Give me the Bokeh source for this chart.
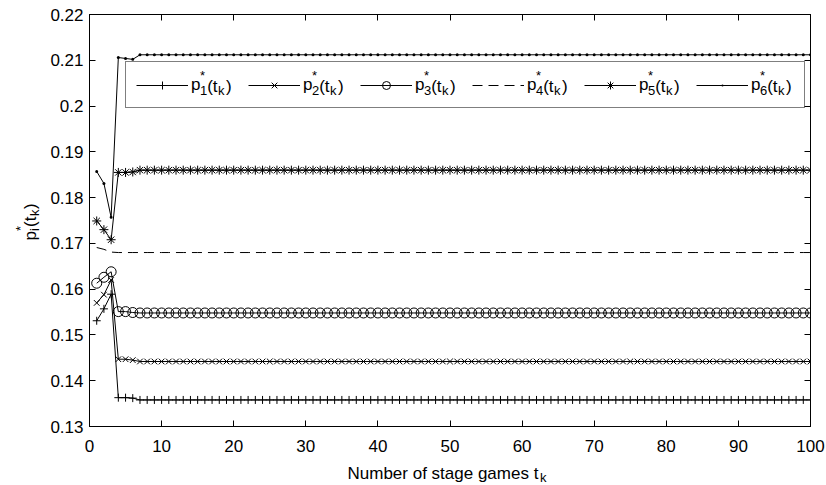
import math
from bokeh.plotting import figure
from bokeh.models import (Legend, LegendItem, LinearAxis, FixedTicker,
                          CustomJSTickFormatter, Range1d, ColumnDataSource)
from bokeh.core.properties import value
from bokeh.embed import file_html
from bokeh.resources import INLINE

# ---------------- data ----------------
t_k = list(range(1, 101))

p1 = [0.1531, 0.1557, 0.1589, 0.1363, 0.1363, 0.1362, 0.1358, 0.1358, 0.1358, 0.1358,
      0.1358, 0.1358, 0.1358, 0.1358, 0.1358, 0.1358, 0.1358, 0.1358, 0.1358, 0.1358,
      0.1358, 0.1358, 0.1358, 0.1358, 0.1358, 0.1358, 0.1358, 0.1358, 0.1358, 0.1358,
      0.1358, 0.1358, 0.1358, 0.1358, 0.1358, 0.1358, 0.1358, 0.1358, 0.1358, 0.1358,
      0.1358, 0.1358, 0.1358, 0.1358, 0.1358, 0.1358, 0.1358, 0.1358, 0.1358, 0.1358,
      0.1358, 0.1358, 0.1358, 0.1358, 0.1358, 0.1358, 0.1358, 0.1358, 0.1358, 0.1358,
      0.1358, 0.1358, 0.1358, 0.1358, 0.1358, 0.1358, 0.1358, 0.1358, 0.1358, 0.1358,
      0.1358, 0.1358, 0.1358, 0.1358, 0.1358, 0.1358, 0.1358, 0.1358, 0.1358, 0.1358,
      0.1358, 0.1358, 0.1358, 0.1358, 0.1358, 0.1358, 0.1358, 0.1358, 0.1358, 0.1358,
      0.1358, 0.1358, 0.1358, 0.1358, 0.1358, 0.1358, 0.1358, 0.1358, 0.1358, 0.1358]

p2 = [0.1570, 0.1588, 0.1620, 0.1447, 0.1447, 0.1445, 0.1442, 0.1442, 0.1442, 0.1442,
      0.1442, 0.1442, 0.1442, 0.1442, 0.1442, 0.1442, 0.1442, 0.1442, 0.1442, 0.1442,
      0.1442, 0.1442, 0.1442, 0.1442, 0.1442, 0.1442, 0.1442, 0.1442, 0.1442, 0.1442,
      0.1442, 0.1442, 0.1442, 0.1442, 0.1442, 0.1442, 0.1442, 0.1442, 0.1442, 0.1442,
      0.1442, 0.1442, 0.1442, 0.1442, 0.1442, 0.1442, 0.1442, 0.1442, 0.1442, 0.1442,
      0.1442, 0.1442, 0.1442, 0.1442, 0.1442, 0.1442, 0.1442, 0.1442, 0.1442, 0.1442,
      0.1442, 0.1442, 0.1442, 0.1442, 0.1442, 0.1442, 0.1442, 0.1442, 0.1442, 0.1442,
      0.1442, 0.1442, 0.1442, 0.1442, 0.1442, 0.1442, 0.1442, 0.1442, 0.1442, 0.1442,
      0.1442, 0.1442, 0.1442, 0.1442, 0.1442, 0.1442, 0.1442, 0.1442, 0.1442, 0.1442,
      0.1442, 0.1442, 0.1442, 0.1442, 0.1442, 0.1442, 0.1442, 0.1442, 0.1442, 0.1442]

p3 = [0.1613, 0.1626, 0.1638, 0.1551, 0.1551, 0.1549, 0.1548, 0.1548, 0.1548, 0.1548,
      0.1548, 0.1548, 0.1548, 0.1548, 0.1548, 0.1548, 0.1548, 0.1548, 0.1548, 0.1548,
      0.1548, 0.1548, 0.1548, 0.1548, 0.1548, 0.1548, 0.1548, 0.1548, 0.1548, 0.1548,
      0.1548, 0.1548, 0.1548, 0.1548, 0.1548, 0.1548, 0.1548, 0.1548, 0.1548, 0.1548,
      0.1548, 0.1548, 0.1548, 0.1548, 0.1548, 0.1548, 0.1548, 0.1548, 0.1548, 0.1548,
      0.1548, 0.1548, 0.1548, 0.1548, 0.1548, 0.1548, 0.1548, 0.1548, 0.1548, 0.1548,
      0.1548, 0.1548, 0.1548, 0.1548, 0.1548, 0.1548, 0.1548, 0.1548, 0.1548, 0.1548,
      0.1548, 0.1548, 0.1548, 0.1548, 0.1548, 0.1548, 0.1548, 0.1548, 0.1548, 0.1548,
      0.1548, 0.1548, 0.1548, 0.1548, 0.1548, 0.1548, 0.1548, 0.1548, 0.1548, 0.1548,
      0.1548, 0.1548, 0.1548, 0.1548, 0.1548, 0.1548, 0.1548, 0.1548, 0.1548, 0.1548]

p4 = [0.1691, 0.1687, 0.1681, 0.1680, 0.1680, 0.1680, 0.1680, 0.1680, 0.1680, 0.1680,
      0.1680, 0.1680, 0.1680, 0.1680, 0.1680, 0.1680, 0.1680, 0.1680, 0.1680, 0.1680,
      0.1680, 0.1680, 0.1680, 0.1680, 0.1680, 0.1680, 0.1680, 0.1680, 0.1680, 0.1680,
      0.1680, 0.1680, 0.1680, 0.1680, 0.1680, 0.1680, 0.1680, 0.1680, 0.1680, 0.1680,
      0.1680, 0.1680, 0.1680, 0.1680, 0.1680, 0.1680, 0.1680, 0.1680, 0.1680, 0.1680,
      0.1680, 0.1680, 0.1680, 0.1680, 0.1680, 0.1680, 0.1680, 0.1680, 0.1680, 0.1680,
      0.1680, 0.1680, 0.1680, 0.1680, 0.1680, 0.1680, 0.1680, 0.1680, 0.1680, 0.1680,
      0.1680, 0.1680, 0.1680, 0.1680, 0.1680, 0.1680, 0.1680, 0.1680, 0.1680, 0.1680,
      0.1680, 0.1680, 0.1680, 0.1680, 0.1680, 0.1680, 0.1680, 0.1680, 0.1680, 0.1680,
      0.1680, 0.1680, 0.1680, 0.1680, 0.1680, 0.1680, 0.1680, 0.1680, 0.1680, 0.1680]

p5 = [0.1749, 0.1730, 0.1708, 0.1855, 0.1855, 0.1856, 0.1860, 0.1860, 0.1860, 0.1860,
      0.1860, 0.1860, 0.1860, 0.1860, 0.1860, 0.1860, 0.1860, 0.1860, 0.1860, 0.1860,
      0.1860, 0.1860, 0.1860, 0.1860, 0.1860, 0.1860, 0.1860, 0.1860, 0.1860, 0.1860,
      0.1860, 0.1860, 0.1860, 0.1860, 0.1860, 0.1860, 0.1860, 0.1860, 0.1860, 0.1860,
      0.1860, 0.1860, 0.1860, 0.1860, 0.1860, 0.1860, 0.1860, 0.1860, 0.1860, 0.1860,
      0.1860, 0.1860, 0.1860, 0.1860, 0.1860, 0.1860, 0.1860, 0.1860, 0.1860, 0.1860,
      0.1860, 0.1860, 0.1860, 0.1860, 0.1860, 0.1860, 0.1860, 0.1860, 0.1860, 0.1860,
      0.1860, 0.1860, 0.1860, 0.1860, 0.1860, 0.1860, 0.1860, 0.1860, 0.1860, 0.1860,
      0.1860, 0.1860, 0.1860, 0.1860, 0.1860, 0.1860, 0.1860, 0.1860, 0.1860, 0.1860,
      0.1860, 0.1860, 0.1860, 0.1860, 0.1860, 0.1860, 0.1860, 0.1860, 0.1860, 0.1860]

p6 = [0.1857, 0.1831, 0.1757, 0.2106, 0.2104, 0.2102, 0.2112, 0.2112, 0.2112, 0.2112,
      0.2112, 0.2112, 0.2112, 0.2112, 0.2112, 0.2112, 0.2112, 0.2112, 0.2112, 0.2112,
      0.2112, 0.2112, 0.2112, 0.2112, 0.2112, 0.2112, 0.2112, 0.2112, 0.2112, 0.2112,
      0.2112, 0.2112, 0.2112, 0.2112, 0.2112, 0.2112, 0.2112, 0.2112, 0.2112, 0.2112,
      0.2112, 0.2112, 0.2112, 0.2112, 0.2112, 0.2112, 0.2112, 0.2112, 0.2112, 0.2112,
      0.2112, 0.2112, 0.2112, 0.2112, 0.2112, 0.2112, 0.2112, 0.2112, 0.2112, 0.2112,
      0.2112, 0.2112, 0.2112, 0.2112, 0.2112, 0.2112, 0.2112, 0.2112, 0.2112, 0.2112,
      0.2112, 0.2112, 0.2112, 0.2112, 0.2112, 0.2112, 0.2112, 0.2112, 0.2112, 0.2112,
      0.2112, 0.2112, 0.2112, 0.2112, 0.2112, 0.2112, 0.2112, 0.2112, 0.2112, 0.2112,
      0.2112, 0.2112, 0.2112, 0.2112, 0.2112, 0.2112, 0.2112, 0.2112, 0.2112, 0.2112]

series_values = [p1, p2, p3, p4, p5, p6]
series_index = ["1", "2", "3", "4", "5", "6"]

x_ticks = [0, 10, 20, 30, 40, 50, 60, 70, 80, 90, 100]
y_ticks = [0.13, 0.14, 0.15, 0.16, 0.17, 0.18, 0.19, 0.20, 0.21, 0.22]
x_label_text = "Number of stage games t"

# ---------------- layout & styles ----------------
FONT = "Liberation Sans"
W, H = 826, 485
FL, FR, FT, FB = 89, 810, 14, 426          # frame edges in canvas pixels
X0, X1, Y0, Y1 = 0, 100, 0.13, 0.22

def dx(px):   # canvas pixel -> data x (for text placement only)
    return X0 + (px - FL) / (FR - FL) * (X1 - X0)

def dy(py):   # canvas pixel -> data y (for text placement only)
    return Y0 + (FB - py) / (FB - FT) * (Y1 - Y0)

styles = [
    dict(marker="cross", size=8, fill=None, dash="solid"),
    dict(marker="x", size=8, fill=None, dash="solid"),
    dict(marker="circle", size=10, fill=None, dash="solid"),
    dict(marker=None, size=0, fill=None, dash="10 6"),
    dict(marker="asterisk", size=9, fill=None, dash="solid"),
    dict(marker="dot", size=12, fill="black", dash="solid"),
]

p = figure(width=W, height=H, x_range=Range1d(X0, X1), y_range=Range1d(Y0, Y1),
           output_backend="svg", toolbar_location=None,
           min_border_left=FL, min_border_right=W - FR,
           min_border_top=FT, min_border_bottom=H - FB,
           background_fill_color="white", border_fill_color="white")
p.grid.visible = False
p.outline_line_color = "black"
p.outline_line_width = 1

def style_axis(ax, ticks, show_labels):
    ax.ticker = FixedTicker(ticks=ticks)
    ax.axis_line_color = "black"
    ax.axis_line_width = 1
    ax.major_tick_in = 6
    ax.major_tick_out = 0
    ax.major_tick_line_color = "black"
    ax.minor_tick_line_color = None
    ax.axis_label = None
    if show_labels:
        ax.major_label_text_font = FONT
        ax.major_label_text_font_size = "17px"
        ax.major_label_text_color = "black"
    else:
        ax.major_label_text_color = None
        ax.major_label_standoff = 0

style_axis(p.xaxis[0], x_ticks, True)
style_axis(p.yaxis[0], y_ticks, True)
p.xaxis[0].major_label_standoff = 13
p.yaxis[0].major_label_standoff = 6
p.yaxis[0].formatter = CustomJSTickFormatter(code="return tick.toFixed(2).replace(/0$/, '');")

top_ax = LinearAxis()
right_ax = LinearAxis()
style_axis(top_ax, x_ticks, False)
style_axis(right_ax, y_ticks, False)
p.add_layout(top_ax, "above")
p.add_layout(right_ax, "right")

items = []
for vals, st in zip(series_values, styles):
    rs = [p.line(t_k, vals, line_color="black", line_width=1, line_dash=st["dash"])]
    if st["marker"] is not None:
        rs.append(p.scatter(t_k, vals, marker=st["marker"], size=st["size"],
                            line_color="black", line_width=1,
                            fill_color=st["fill"]))
    items.append(LegendItem(label="p", renderers=rs))

LEG_L, LEG_B = 125, 108          # legend box left / bottom (canvas px)
legend = Legend(items=items, location=(LEG_L - FL, FB - LEG_B), orientation="horizontal",
                glyph_width=52, glyph_height=20, label_height=25, label_width=43,
                label_standoff=3, spacing=14, padding=10,
                border_line_color="black", border_line_width=1.5,
                background_fill_color="white", background_fill_alpha=0,
                label_text_font=FONT, label_text_font_size="17px",
                label_text_color="black", label_text_baseline="alphabetic")
p.add_layout(legend)

# ---------------- rich text pieces (sub/superscripts) ----------------
txt, tx, ty, tsize, tang = [], [], [], [], []

def piece(text, px, py, size, angle=0.0):
    txt.append(text); tx.append(dx(px)); ty.append(dy(py))
    tsize.append(size); tang.append(angle)

# legend labels: p^*_n(t_k)  (the "p" is the legend's own label)
leg_by = 85.5
for i, idx in enumerate(series_index):
    bx = LEG_L + 10 + 52 + 3 + i * 112
    piece("*", bx + 9.5, leg_by - 11, "13px")
    piece(idx, bx + 9.5, leg_by + 4, "13px")
    piece("(t", bx + 16.7, leg_by, "17px")
    piece("k", bx + 27.5, leg_by + 4, "13px")
    piece(")", bx + 35.5, leg_by, "17px")

# y axis label, rotated: p^*_i(t_k)
ang = math.pi / 2
yb_x, yb_y = 29.5, 240
piece("p", yb_x, yb_y, "17px", ang)
piece("*", yb_x - 10, yb_y - 9.5, "13px", ang)
piece("i", yb_x + 4, yb_y - 9.5, "13px", ang)
piece("(t", yb_x, yb_y - 13.5, "17px", ang)
piece("k", yb_x + 4, yb_y - 24.5, "13px", ang)
piece(")", yb_x, yb_y - 31.5, "17px", ang)

# x axis label
piece(x_label_text, 347, 472.5, "17px")
piece("k", 539.5, 477, "13px")

src = ColumnDataSource(dict(x=tx, y=ty, text=txt, size=tsize, angle=tang))
p.text(x="x", y="y", text="text", angle="angle", source=src,
       text_font=value(FONT), text_font_size="size", text_color="black",
       text_align="left", text_baseline="alphabetic", level="overlay")

open("out.html", "w").write(file_html(p, INLINE))
